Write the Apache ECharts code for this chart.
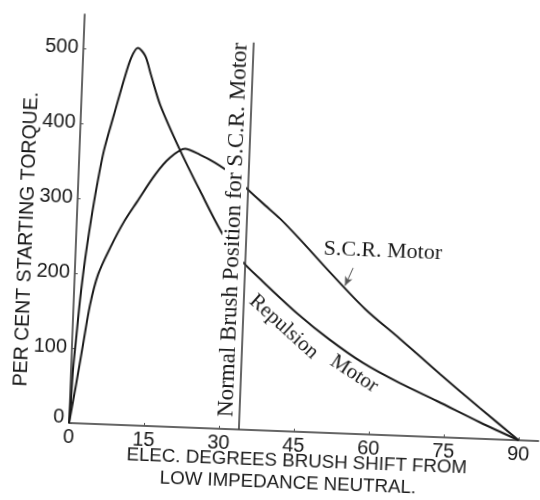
<!DOCTYPE html>
<html><head><meta charset="utf-8">
<script src="https://cdn.jsdelivr.net/npm/echarts@6/dist/echarts.min.js"></script>
<style>
html,body{margin:0;padding:0;background:#fff;overflow:hidden;width:540px;height:500px;}
#chart{width:540px;height:500px;transform:rotate(2.2deg);transform-origin:69px 423px;}
</style></head><body><div id="chart"></div>
<script>
// Tick labels
const xTicks = [0, 15, 30, 45, 60, 75, 90];
const yTicks = [0, 100, 200, 300, 400, 500];

// Repulsion motor: [elec. degrees brush shift, per cent starting torque]
const repulsionMotor = [
  [0, 0], [0.22, 31], [0.39, 71], [0.76, 111], [1.26, 164], [1.95, 218], [2.84, 271],
  [3.77, 318], [4.9, 365], [6.63, 413], [8.37, 460], [9.6, 489], [10.9, 503],
  [12.4, 493], [13.7, 468], [15.8, 428], [20.1, 369], [24.4, 316], [29.1, 261],
  [33.1, 226], [37.7, 198], [44.7, 158], [51.5, 124], [58.3, 95], [65.8, 70],
  [73.4, 48], [82.1, 22], [90, 0]
];

// S.C.R. motor
const scrMotor = [
  [0, 0], [1.11, 51], [2.2, 105], [3.29, 158], [4.66, 199], [6.86, 235], [9.46, 271],
  [11.9, 298], [15.3, 335], [18.1, 358], [21.1, 371], [24.1, 364], [27.2, 354],
  [30.3, 341], [33.4, 323], [37.5, 300], [40.6, 283], [44.8, 256], [51, 214],
  [58.3, 167], [65.5, 129], [73.8, 84], [82, 41], [90, 0]
];

// Normal brush position for S.C.R. motor
const brushPosition = 34;
const brushLineTop = 516;

const chart = echarts.init(document.getElementById('chart'), null, {renderer: 'canvas'});
const ink = '#1a1a1a';
const sans = 'Liberation Sans, Arial, sans-serif';
const serif = 'Liberation Serif, Times New Roman, serif';

chart.setOption({
  animation: false,
  backgroundColor: '#fff',
  grid: {left: 69, right: 1, top: 14, bottom: 77, containLabel: false, outerBoundsMode: 'none'},
  xAxis: {
    type: 'value', min: 0, max: 94, interval: 15,
    axisLine: {show: true, lineStyle: {color: '#333', width: 1.5}},
    axisTick: {show: true, inside: true, length: 3, customValues: xTicks, lineStyle: {color: '#555'}},
    splitLine: {show: false},
    axisLabel: {
      customValues: xTicks, margin: 4, fontSize: 20, fontFamily: sans, color: '#1a1a1a',
      formatter: v => xTicks.includes(v) ? String(v) : ''
    }
  },
  yAxis: {
    type: 'value', min: 0, max: 545, interval: 100,
    axisLine: {show: true, lineStyle: {color: '#333', width: 1.5}},
    axisTick: {show: true, inside: true, length: 3, customValues: yTicks, lineStyle: {color: '#555'}},
    splitLine: {show: false},
    axisLabel: {
      customValues: yTicks, margin: 5, fontSize: 20, fontFamily: sans, color: '#1a1a1a',
      formatter: v => v === 0 ? '{z|0}' : (yTicks.includes(v) ? String(v) : ''),
      rich: {z: {fontSize: 20, fontFamily: sans, color: '#1a1a1a', padding: [0, 0, 11, 0]}}
    }
  },
  series: [
    {
      name: 'Repulsion Motor', type: 'line', data: repulsionMotor, showSymbol: false,
      smooth: 0.3, lineStyle: {color: ink, width: 2}, z: 3
    },
    {
      name: 'S.C.R. Motor', type: 'line', data: scrMotor, showSymbol: false,
      smooth: 0.3, lineStyle: {color: ink, width: 2}, z: 3,
      markLine: {
        silent: true, symbol: ['none', 'arrow'], symbolSize: [6, 9],
        lineStyle: {color: '#555', width: 1, type: 'solid'}, label: {show: false},
        data: [[{coord: [55.6, 221]}, {coord: [54.1, 197]}]]
      }
    },
    {
      name: 'Normal Brush Position', type: 'line',
      data: [[brushPosition, 0], [brushPosition, brushLineTop]],
      showSymbol: false, lineStyle: {color: '#333', width: 1.5}, z: 4
    }
  ]
});

const px = (x, y) => chart.convertToPixel({gridIndex: 0}, [x, y]);
const o = px(0, 0);
function txt(pos, text, font, rot, extra) {
  return {
    type: 'text', x: pos[0], y: pos[1], rotation: rot * Math.PI / 180, z: 100,
    style: Object.assign({
      text: text, font: font, fill: '#1a1a1a',
      align: 'center', verticalAlign: 'middle',
      textAlign: 'center', textVerticalAlign: 'middle'
    }, extra || {})
  };
}
chart.setOption({
  graphic: [
    txt(px(31.4, 265.5), 'Normal Brush Position for S.C.R. Motor', '23px ' + serif, 90,
        {backgroundColor: '#fff', lineHeight: 22, padding: [0, 0]}),
    txt(px(61.4, 245), 'S.C.R. Motor', '22px ' + serif, 0),
    txt(px(42.2, 139), 'Repulsion', '21px ' + serif, -40),
    txt(px(56.6, 80), 'Motor', '21px ' + serif, -31),
    txt([o[0] + 229, o[1] + 30], 'ELEC. DEGREES BRUSH SHIFT FROM', '18.7px ' + sans, 0),
    txt([o[0] + 221, o[1] + 52], 'LOW IMPEDANCE NEUTRAL.', '18.7px ' + sans, 0),
    txt([o[0] - 49, o[1] - 182], 'PER CENT STARTING TORQUE.', '19.5px ' + sans, 90)
  ]
});
</script></body></html>
